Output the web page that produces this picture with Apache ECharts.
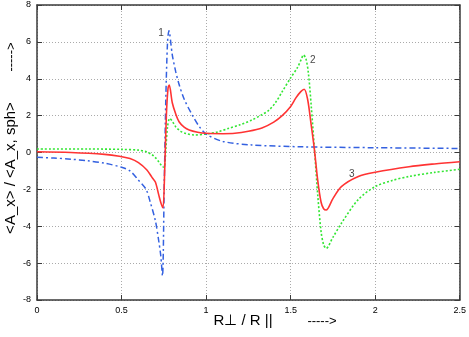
<!DOCTYPE html>
<html>
<head>
<meta charset="utf-8">
<script src="https://cdn.jsdelivr.net/npm/echarts@6/dist/echarts.min.js"></script>
<style>
  html, body { margin: 0; padding: 0; background: #fff; }
  #chart { width: 469px; height: 337px; }
</style>
</head>
<body>
<div id="chart"></div>
<script>
// curve 1 (blue, dash-dot)
const x1 = [0, 0.1, 0.2, 0.3, 0.4, 0.5, 0.55, 0.6, 0.645, 0.67, 0.7, 0.72, 0.732, 0.742, 0.752, 0.762, 0.772, 0.78, 0.8, 0.82, 0.84, 0.87, 0.92, 0.96, 1.0, 1.1, 1.27, 1.56, 2.0, 2.5];
const y1 = [-0.26, -0.3, -0.36, -0.45, -0.58, -0.8, -1.0, -1.5, -2.0, -2.7, -3.7, -4.8, -5.6, -6.7, -2.0, 3.0, 6.0, 6.6, 5.3, 4.4, 3.7, 2.9, 2.0, 1.4, 1.0, 0.6, 0.41, 0.31, 0.26, 0.22];
// curve 2 (green, dotted)
const x2 = [0, 0.3, 0.5, 0.6, 0.65, 0.68, 0.7, 0.72, 0.74, 0.752, 0.762, 0.772, 0.785, 0.8, 0.82, 0.85, 0.88, 0.93, 1.0, 1.07, 1.13, 1.2, 1.27, 1.33, 1.37, 1.41, 1.45, 1.5, 1.54, 1.565, 1.575, 1.59, 1.605, 1.622, 1.641, 1.661, 1.68, 1.695, 1.71, 1.75, 1.8, 1.9, 2.0, 2.1, 2.2, 2.35, 2.5];
const y2 = [0.19, 0.19, 0.17, 0.13, 0.03, -0.12, -0.28, -0.5, -0.75, -0.8, 0.2, 1.4, 1.85, 1.7, 1.4, 1.15, 1.03, 0.95, 1.0, 1.12, 1.3, 1.5, 1.76, 2.05, 2.28, 2.7, 3.3, 4.05, 4.6, 5.1, 5.29, 5.1, 4.3, 2.5, 0.14, -2.4, -4.3, -5.0, -5.2, -4.6, -3.84, -2.55, -1.85, -1.52, -1.3, -1.08, -0.91];
// curve 3 (red, solid)
const x3 = [0, 0.2, 0.4, 0.487, 0.55, 0.6, 0.65, 0.68, 0.7, 0.72, 0.735, 0.745, 0.755, 0.765, 0.775, 0.782, 0.8, 0.82, 0.84, 0.87, 0.9, 0.95, 1.0, 1.1, 1.17, 1.25, 1.33, 1.4, 1.45, 1.5, 1.53, 1.56, 1.58, 1.6, 1.62, 1.64, 1.66, 1.68, 1.695, 1.71, 1.75, 1.8, 1.9, 2.0, 2.2, 2.35, 2.5];
const y3 = [0.04, 0.0, -0.1, -0.2, -0.33, -0.55, -0.95, -1.35, -1.6, -2.3, -2.8, -3.0, -1.0, 2.0, 3.5, 3.66, 2.7, 2.1, 1.67, 1.38, 1.22, 1.1, 1.04, 1.02, 1.04, 1.15, 1.33, 1.65, 2.0, 2.5, 2.95, 3.3, 3.43, 2.9, 1.6, 0.2, -1.5, -2.7, -3.05, -3.12, -2.5, -1.85, -1.3, -1.07, -0.77, -0.62, -0.5];

const curveTags = ['1', '2', '3'];
const tagX = [0.734, 1.631, 1.862];
const tagY = [6.48, 5.02, -1.18];

const pairs = (xs, ys) => xs.map((x, i) => [x, ys[i]]);

const chart = echarts.init(document.getElementById('chart'));

const frame = { show: true, onZero: false, lineStyle: { color: '#3a3a3a', width: 1.5 } };
const tick = { show: true, inside: true, length: 5, lineStyle: { color: '#3a3a3a' } };
const grid = { show: true, lineStyle: { color: '#aaaaaa', type: [1, 2], width: 1 } };
const tickFont = { color: '#000', fontSize: 9, fontFamily: 'Liberation Sans' };

chart.setOption({
  animation: false,
  grid: { left: 37, right: 6, top: 5, bottom: 37 },
  xAxis: [
    { type: 'value', min: 0, max: 2.5, interval: 0.5, axisLine: frame, axisTick: tick,
      splitLine: grid, axisLabel: Object.assign({ margin: 6 }, tickFont) },
    { type: 'value', position: 'top', min: 0, max: 2.5, interval: 0.5, axisLine: frame,
      axisTick: tick, splitLine: { show: false }, axisLabel: { show: false } }
  ],
  yAxis: [
    { type: 'value', min: -8, max: 8, interval: 2, axisLine: frame, axisTick: tick,
      splitLine: grid, axisLabel: Object.assign({ margin: 6 }, tickFont) },
    { type: 'value', position: 'right', min: -8, max: 8, interval: 2, axisLine: frame,
      axisTick: tick, splitLine: { show: false }, axisLabel: { show: false } }
  ],
  series: [
    { type: 'line', data: pairs(x2, y2), symbol: 'none', smooth: 0.3,
      lineStyle: { color: '#33e633', width: 1.6, type: [2, 2] } },
    { type: 'line', data: pairs(x1, y1), symbol: 'none', smooth: 0.3,
      lineStyle: { color: '#3461e0', width: 1.5, type: [6, 3, 2, 3] } },
    { type: 'line', data: pairs(x3, y3), symbol: 'none', smooth: 0.3,
      lineStyle: { color: '#ff3333', width: 1.6 } },
    { type: 'scatter', symbolSize: 0, silent: true,
      data: curveTags.map((t, i) => [tagX[i], tagY[i], t]),
      label: { show: true, position: 'inside', formatter: p => p.value[2],
        color: '#111', fontSize: 10, fontFamily: 'Liberation Sans' } }
  ],
  graphic: [
    { type: 'text', x: 243, y: 321, style: { text: 'R⊥ / R ||', fill: '#000',
      font: '15px Liberation Sans', textAlign: 'center', textVerticalAlign: 'middle' } },
    { type: 'text', x: 322, y: 321, style: { text: '----->', fill: '#000',
      font: '13px Liberation Sans', textAlign: 'center', textVerticalAlign: 'middle' } },
    { type: 'text', x: 11, y: 168, rotation: Math.PI / 2, style: { text: '<A_x> / <A_x, sph>', fill: '#000',
      font: '15px Liberation Sans', textAlign: 'center', textVerticalAlign: 'middle' } },
    { type: 'text', x: 11, y: 57, rotation: Math.PI / 2, style: { text: '----->', fill: '#000',
      font: '13px Liberation Sans', textAlign: 'center', textVerticalAlign: 'middle' } }
  ]
});
</script>
</body>
</html>
